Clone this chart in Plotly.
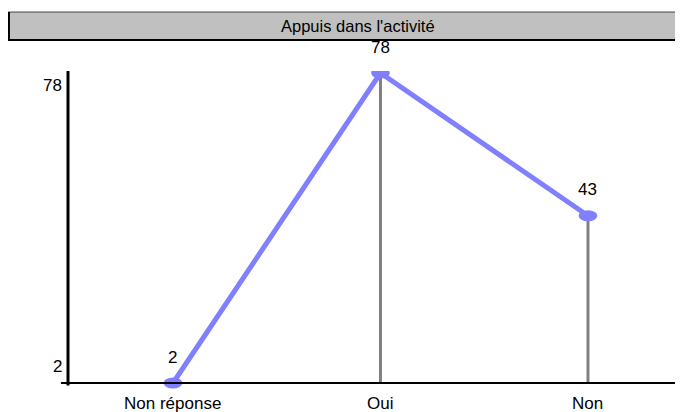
import plotly.graph_objects as go

title = "Appuis dans l'activité"
categories = ['Non réponse', 'Oui', 'Non']
values = [2, 78, 43]
y_ticks = [2, 78]

base = min(values)
pos = list(range(len(categories)))
family = 'Liberation Sans, Arial, sans-serif'
font = dict(family=family, size=17, color='black')

fig = go.Figure()

# grey drop lines down to the axis
fig.add_trace(go.Scatter(
    x=pos, y=values, mode='markers', marker=dict(size=1, opacity=0),
    error_y=dict(type='data', symmetric=False, array=[0] * len(values),
                 arrayminus=[v - base for v in values],
                 color='#808080', thickness=3, width=0),
    hoverinfo='skip', showlegend=False))

fig.add_trace(go.Scatter(
    x=pos, y=values, mode='lines', line=dict(color='#8080ff', width=5),
    showlegend=False))

# elliptic markers + value labels
for i, v in zip(pos, values):
    fig.add_shape(type='circle', xref='x', yref='y',
                  x0=i - 0.045, x1=i + 0.045, y0=v - 1.35, y1=v + 1.35,
                  fillcolor='#8080ff', line=dict(width=0))
    fig.add_annotation(x=i, y=v, text=str(v), showarrow=False, yshift=26,
                       xanchor='center', yanchor='middle', font=font)

# category labels
for i, c in zip(pos, categories):
    fig.add_annotation(x=i, xref='x', yref='paper', y=0, text=c, showarrow=False,
                       xanchor='center', yanchor='middle', yshift=-8, font=font)

# axis lines
fig.add_shape(type='line', xref='paper', yref='y', x0=-0.0115, x1=1.01,
              y0=base, y1=base, line=dict(color='black', width=2))
fig.add_shape(type='line', xref='paper', yref='y', x0=0, x1=0,
              y0=base - 0.6, y1=78.5, line=dict(color='black', width=3))

# y labels
fig.add_annotation(xref='paper', yref='y', x=0, y=y_ticks[1], text=str(y_ticks[1]),
                   showarrow=False, xanchor='right', yanchor='middle',
                   xshift=-4, yshift=-12, font=font)
fig.add_annotation(xref='paper', yref='y', x=0, y=y_ticks[0], text=str(y_ticks[0]),
                   showarrow=False, xanchor='right', yanchor='middle',
                   xshift=-4, yshift=17, font=font)

# title bar
fig.add_shape(type='rect', xref='paper', yref='paper', x0=-0.0976, x1=1.02,
              y0=1.0957, y1=1.182, fillcolor='#c0c0c0',
              line=dict(color='#404040', width=1))
fig.add_shape(type='line', xref='paper', yref='paper', x0=-0.0976, x1=1.02,
              y0=1.0957, y1=1.0957, line=dict(color='black', width=2))
fig.add_shape(type='line', xref='paper', yref='paper', x0=-0.0960, x1=-0.0960,
              y0=1.0957, y1=1.182, line=dict(color='black', width=2))
fig.add_annotation(xref='paper', yref='paper', x=0.4715, y=1.139, text=title,
                   showarrow=False, xanchor='center', yanchor='middle',
                   font=dict(family=family, size=16.5, color='black'))

fig.update_xaxes(range=[-0.506, 2.458], showgrid=False, zeroline=False,
                 showline=False, showticklabels=False, ticks='')
fig.update_yaxes(range=[-0.94, 78.49], showgrid=False, zeroline=False,
                 showline=False, showticklabels=False, ticks='')

# page has an 8px body margin, so the figure is 8px smaller and shifted
fig.update_layout(width=675, height=404, margin=dict(l=60, r=0, t=63, b=17),
                  plot_bgcolor='white', paper_bgcolor='white', font=font)

fig.write_html("out.html")
